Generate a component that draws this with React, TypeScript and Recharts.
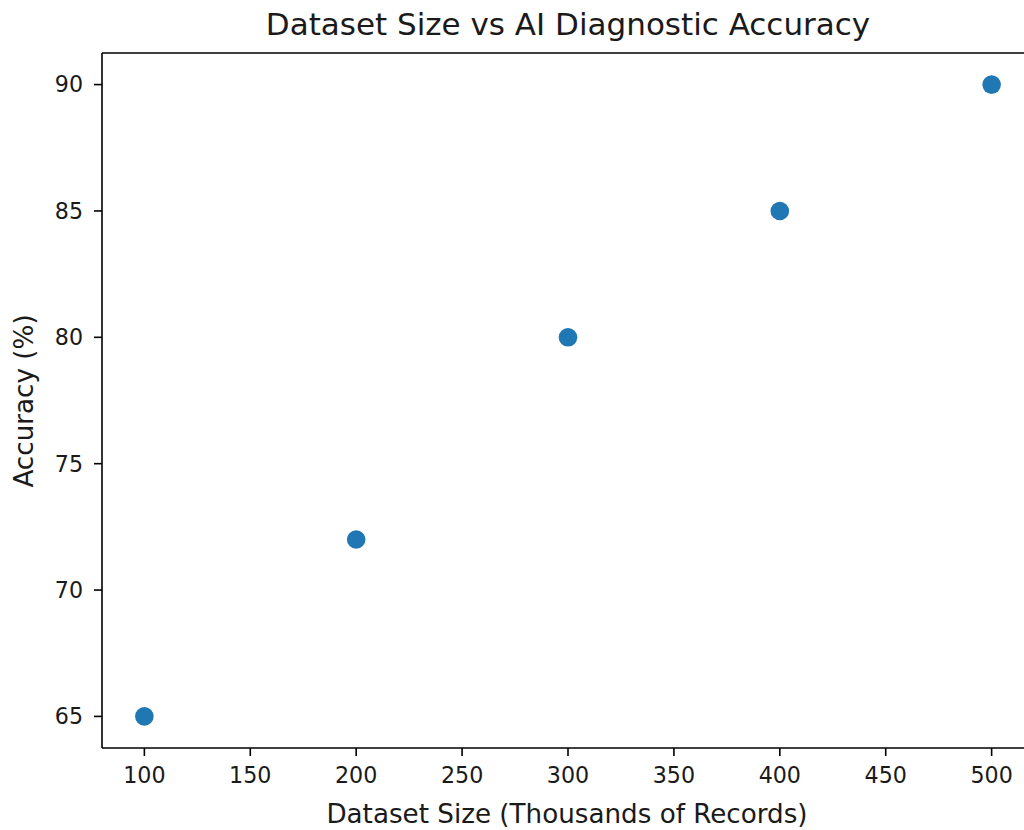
import React from "react";
import {
  ScatterChart,
  Scatter,
  XAxis,
  YAxis,
  ReferenceLine,
  Label,
} from "recharts";

const datasetSizes = [100, 200, 300, 400, 500];
const accuracies = [65, 72, 80, 85, 90];

const xTicks = [100, 150, 200, 250, 300, 350, 400, 450, 500];
const yTicks = [65, 70, 75, 80, 85, 90];

const xDomain: [number, number] = [80, 520];
const yDomain: [number, number] = [63.75, 91.25];

const points = datasetSizes.map((size, i) => ({ size, accuracy: accuracies[i] }));

const font = "'DejaVu Sans', sans-serif";
const tickStyle = { fill: "#1a1a1a", fontSize: 22.2, fontFamily: font };

const Dot = (props: any) => (
  <circle cx={props.cx} cy={props.cy} r={9.3} fill="#1f77b4" />
);

export default function App() {
  return (
    <div
      style={{
        position: "fixed",
        left: 0,
        top: 0,
        width: 1024,
        height: 830,
        overflow: "hidden",
        background: "#fff",
      }}
    >
      <ScatterChart
        width={1040}
        height={830}
        margin={{ top: 53, right: 6, bottom: 0, left: 0 }}
      >
        <XAxis
          type="number"
          dataKey="size"
          domain={xDomain}
          ticks={xTicks}
          height={82}
          tickSize={8}
          tickMargin={11}
          stroke="#000"
          strokeWidth={1.6}
          tick={tickStyle}
          tickLine={{ stroke: "#000", strokeWidth: 1.6 }}
        >
          <Label
            content={() => (
              <text
                x={567}
                y={823}
                textAnchor="middle"
                fontFamily={font}
                fontSize={26.2}
                fill="#1a1a1a"
              >
                Dataset Size (Thousands of Records)
              </text>
            )}
          />
        </XAxis>
        <YAxis
          type="number"
          dataKey="accuracy"
          domain={yDomain}
          ticks={yTicks}
          width={102}
          tickSize={8}
          tickMargin={11}
          stroke="#000"
          strokeWidth={1.6}
          tick={tickStyle}
          tickLine={{ stroke: "#000", strokeWidth: 1.6 }}
        >
          <Label
            content={() => (
              <text
                x={33}
                y={401}
                textAnchor="middle"
                transform="rotate(-90 33 401)"
                fontFamily={font}
                fontSize={26.2}
                fill="#1a1a1a"
              >
                Accuracy (%)
              </text>
            )}
          />
        </YAxis>
        <ReferenceLine y={yDomain[1]} stroke="#000" strokeWidth={1.6}>
          <Label
            content={() => (
              <text
                x={568}
                y={35}
                textAnchor="middle"
                fontFamily={font}
                fontSize={31}
                fill="#1a1a1a"
              >
                Dataset Size vs AI Diagnostic Accuracy
              </text>
            )}
          />
        </ReferenceLine>
        <ReferenceLine x={xDomain[1]} stroke="#000" strokeWidth={1.6} />
        <Scatter
          data={points}
          fill="#1f77b4"
          shape={Dot}
          isAnimationActive={false}
        />
      </ScatterChart>
    </div>
  );
}
